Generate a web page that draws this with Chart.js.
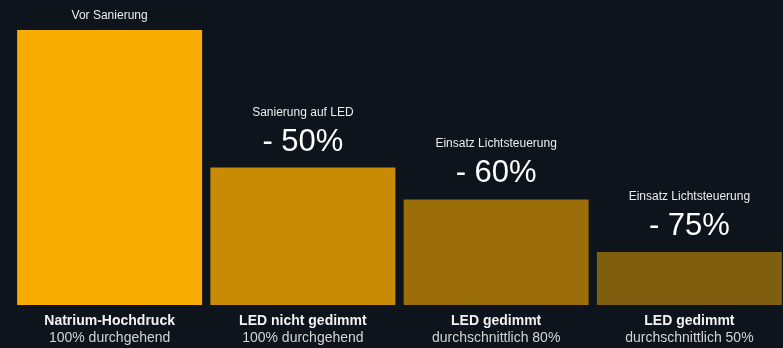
<!DOCTYPE html>
<html>
<head>
<meta charset="utf-8">
<script src="https://cdn.jsdelivr.net/npm/chart.js@4"></script>
<style>
  html, body { margin: 0; padding: 0; background: #0e141c; overflow: hidden; }
  #wrap { width: 786px; height: 348px; position: relative; }
</style>
</head>
<body>
<div id="wrap"><canvas id="chart"></canvas></div>
<script>
const categories = ["Natrium-Hochdruck", "LED nicht gedimmt", "LED gedimmt", "LED gedimmt"]
const subLabels = ["100% durchgehend", "100% durchgehend", "durchschnittlich 80%", "durchschnittlich 50%"]
const consumption = [100, 50, 38.4, 19.3]
const noteLabels = ["Vor Sanierung", "Sanierung auf LED", "Einsatz Lichtsteuerung", "Einsatz Lichtsteuerung"]
const savingLabels = ["", "- 50%", "- 60%", "- 75%"]
const barColors = ["#f8ac00", "#c98a04", "#9c6e0a", "#805e10"]

const font = '"Liberation Sans", Arial, sans-serif'

const labelPlugin = {
  id: "labels",
  afterDatasetsDraw(chart) {
    const ctx = chart.ctx
    const meta = chart.getDatasetMeta(0)
    ctx.save()
    ctx.textAlign = "center"
    ctx.textBaseline = "alphabetic"
    meta.data.forEach((bar, i) => {
      const x = bar.x
      const top = bar.y
      if (savingLabels[i]) {
        ctx.fillStyle = "#ffffff"
        ctx.font = "31px " + font
        ctx.fillText(savingLabels[i], x, top - 17)
        ctx.fillStyle = "#ececec"
        ctx.font = "12px " + font
        ctx.fillText(noteLabels[i], x, top - 52)
      } else {
        ctx.fillStyle = "#ececec"
        ctx.font = "12px " + font
        ctx.fillText(noteLabels[i], x, top - 11)
      }
      const base = chart.chartArea.bottom
      ctx.fillStyle = "#f2f2f2"
      ctx.font = "bold 14px " + font
      ctx.fillText(categories[i], x, base + 20)
      ctx.fillStyle = "#d4d4d4"
      ctx.font = "14px " + font
      ctx.fillText(subLabels[i], x, base + 37)
    })
    ctx.restore()
  }
}

new Chart(document.getElementById("chart"), {
  type: "bar",
  data: {
    labels: categories,
    datasets: [
      {
        data: consumption,
        backgroundColor: barColors,
        borderWidth: 0,
        barPercentage: 1,
        categoryPercentage: 0.957
      }
    ]
  },
  options: {
    responsive: true,
    maintainAspectRatio: false,
    animation: false,
    layout: { padding: { top: 30, bottom: 43, left: 13, right: 0 } },
    plugins: {
      legend: { display: false },
      tooltip: { enabled: false }
    },
    scales: {
      x: { display: false },
      y: { display: false, min: 0, max: 100 }
    }
  },
  plugins: [labelPlugin]
})
</script>
</body>
</html>
